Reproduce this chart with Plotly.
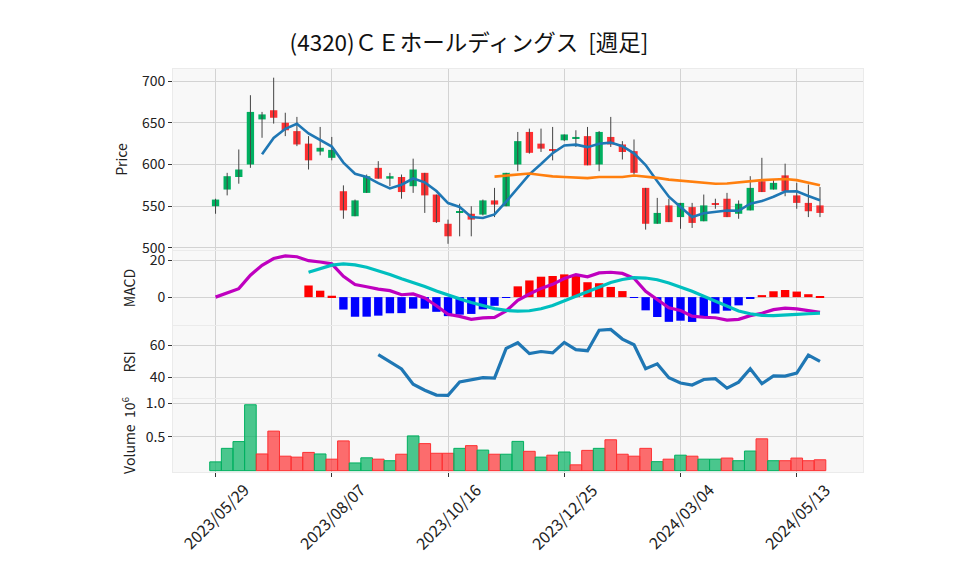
import pandas as pd
import plotly.graph_objects as go
from plotly.subplots import make_subplots

# ---------------- data ----------------
start_date = "2023-05-29"
n_weeks = 53
open_p = [550, 570, 585, 600, 654, 665, 650, 640, 625, 615.5,
          608, 568, 538, 566, 596, 583, 585, 574, 590, 564,
          529, 543, 541, 540, 557, 550, 600, 639, 625, 618,
          629, 631, 634, 600, 633, 624, 616, 572, 529, 551,
          537, 549, 532, 553.5, 559, 541, 545, 580, 570, 587,
          563, 554, 551]
high_p = [559, 590, 618, 683, 663, 704, 662, 657, 634, 645,
          633, 575, 558, 588, 604, 590, 588, 607, 590, 564,
          534, 553, 550, 558, 572, 590, 639, 643, 643, 645,
          636, 641, 645, 640, 657, 628, 630, 572, 560, 559,
          554, 554, 564, 559, 566, 557, 586, 608, 582, 601,
          578, 576, 573]
low_p = [541, 563, 577, 596, 632, 649, 634, 622, 594, 611,
         605, 535, 538, 566, 583, 574, 559, 566, 542, 530,
         505, 514, 514, 539, 537, 550, 592, 613, 615, 605,
         628, 621, 599, 592, 621, 606, 588, 522, 529, 531,
         523, 524, 532, 547, 537, 535, 545, 567, 570, 562,
         547, 537, 537]
close_p = [558, 586, 594, 663, 660, 656, 641, 624, 605, 620,
           617.5, 545, 557, 586, 583, 586, 567, 594, 563, 531,
           514, 544, 534, 557, 552, 590, 628, 614, 619, 617,
           636, 633, 599, 639, 624, 615, 590, 529, 542, 531,
           554, 530, 551, 552, 537, 553, 572, 567, 578, 568,
           554, 544, 542]
volume_m = [0.13, 0.33, 0.43, 0.975, 0.247, 0.585, 0.214, 0.2, 0.27, 0.247,
            0.17, 0.44, 0.114, 0.19, 0.17, 0.147, 0.243, 0.514, 0.4, 0.257,
            0.257, 0.33, 0.37, 0.304, 0.243, 0.243, 0.433, 0.286, 0.2, 0.229,
            0.276, 0.086, 0.3, 0.33, 0.457, 0.243, 0.214, 0.33, 0.133, 0.17,
            0.229, 0.214, 0.17, 0.17, 0.186, 0.147, 0.29, 0.471, 0.147, 0.147,
            0.186, 0.147, 0.161]
tick_dates = ["2023-05-29", "2023-08-07", "2023-10-16", "2023-12-25", "2024-03-04", "2024-05-13"]
tick_labels = ["2023/05/29", "2023/08/07", "2023/10/16", "2023/12/25", "2024/03/04", "2024/05/13"]
title_text = "(4320)ＣＥホールディングス  [週足]"

# ---------------- derived ----------------
dates = pd.date_range(start_date, periods=n_weeks, freq="7D")
close = pd.Series(close_p)
ma5 = close.rolling(5).mean()
ma25 = close.rolling(25).mean()
ema12 = close.ewm(span=12, adjust=False).mean()
ema26 = close.ewm(span=26, adjust=False).mean()
macd = ema12 - ema26
signal = macd.rolling(9).mean()
hist = macd - signal
delta = close.diff()
gain = delta.clip(lower=0).rolling(14).mean()
loss = (-delta.clip(upper=0)).rolling(14).mean()
rsi = 100 * gain / (gain + loss)

UP = "#00b060"
DOWN = "#fe3032"
UP_V = "rgba(0,176,96,0.7)"
DOWN_V = "rgba(254,48,50,0.7)"

week_ms = 7 * 24 * 3600 * 1000
body_base = [min(o, c) for o, c in zip(open_p, close_p)]
body_h = [max(abs(c - o), 0.6) for o, c in zip(open_p, close_p)]
body_col = [UP if c >= o else DOWN for o, c in zip(open_p, close_p)]
vol_up = [True] + [close_p[i] >= close_p[i - 1] for i in range(1, n_weeks)]
vol_col = [UP_V if u else DOWN_V for u in vol_up]
vol_line = [UP if u else DOWN for u in vol_up]
hist_col = ["#ff0000" if (h == h and h >= 0) else "#0000ff" for h in hist]

wx, wy = [], []
for d, h, l in zip(dates, high_p, low_p):
    wx += [d, d, None]
    wy += [l, h, None]

fig = make_subplots(rows=4, cols=1, shared_xaxes=True)

fig.add_trace(go.Scatter(x=wx, y=wy, mode="lines", line=dict(color="#444444", width=1),
                         hoverinfo="skip"), row=1, col=1)
fig.add_trace(go.Bar(x=dates, y=body_h, base=body_base, width=0.63 * week_ms,
                     marker=dict(color=body_col, line=dict(width=0))), row=1, col=1)
fig.add_trace(go.Scatter(x=dates, y=ma5, mode="lines", line=dict(color="#1f77b4", width=2.6)), row=1, col=1)
fig.add_trace(go.Scatter(x=dates, y=ma25, mode="lines", line=dict(color="#ff7f0e", width=2.6)), row=1, col=1)

fig.add_trace(go.Bar(x=dates, y=hist, width=0.72 * week_ms,
                     marker=dict(color=hist_col, line=dict(width=0))), row=2, col=1)
fig.add_trace(go.Scatter(x=dates, y=macd, mode="lines", line=dict(color="#bf00bf", width=3.2)), row=2, col=1)
fig.add_trace(go.Scatter(x=dates, y=signal, mode="lines", line=dict(color="#00bfbf", width=3.2)), row=2, col=1)

fig.add_trace(go.Scatter(x=dates, y=rsi, mode="lines", line=dict(color="#1f77b4", width=3.2)), row=3, col=1)

fig.add_trace(go.Bar(x=dates, y=volume_m, width=week_ms,
                     marker=dict(color=vol_col, line=dict(color=vol_line, width=1))), row=4, col=1)

x_range = [dates[0] - pd.Timedelta(days=7 * 3.66), dates[-1] + pd.Timedelta(days=7 * 3.7)]
font_main = "Noto Sans CJK JP, DejaVu Sans, sans-serif"
TXT = "#222222"

axis_common = dict(showgrid=True, gridcolor="#d3d3d3", gridwidth=1, zeroline=False,
                   ticks="outside", ticklen=4, tickcolor="#333333",
                   showline=True, linecolor="#ebebeb", mirror=True,
                   tickfont=dict(size=14, color=TXT))

tick_x = list(pd.to_datetime(tick_dates))
for i in range(1, 5):
    fig.update_xaxes(type="date", range=x_range, tickvals=tick_x,
                     ticktext=tick_labels, **axis_common, row=i, col=1)
    fig.update_xaxes(showticklabels=False, row=i, col=1)

# rotated date labels centred under their ticks (as in the reference)
for tx, tl in zip(tick_x, tick_labels):
    fig.add_annotation(x=tx, xref="x4", y=-0.1092, yref="paper", text=tl, textangle=-45,
                       showarrow=False, xanchor="center", yanchor="middle",
                       font=dict(size=16, color=TXT, family="Noto Sans CJK JP, sans-serif"))

fig.update_yaxes(range=[497.6, 714.4], tickvals=[500, 550, 600, 650, 700],
                 title=dict(text="Price", font=dict(size=14, color=TXT), standoff=10),
                 **axis_common, row=1, col=1)
fig.update_yaxes(range=[-15.1, 25.0], tickvals=[0, 20],
                 title=dict(text="MACD", font=dict(size=14, color=TXT), standoff=10),
                 **axis_common, row=2, col=1)
fig.update_yaxes(range=[27.1, 72.1], tickvals=[40, 60],
                 title=dict(text="RSI", font=dict(size=14, color=TXT), standoff=10),
                 **axis_common, row=3, col=1)
fig.update_yaxes(range=[-0.02, 1.06], tickvals=[0.5, 1.0], ticktext=["0.5", "1.0"],
                 title=dict(text="Volume  10<sup>6</sup>", font=dict(size=14, color=TXT), standoff=6),
                 **axis_common, row=4, col=1)

# page has an 8px body margin; the figure is sized so the page is 958x575
W, H = 942, 559
fig.update_layout(
    width=W, height=H,
    margin=dict(l=165, r=W - 855, t=61, b=H - 464),
    paper_bgcolor="white", plot_bgcolor="#f8f8f8",
    showlegend=False, barmode="overlay",
    font=dict(family=font_main, size=14, color=TXT),
    title=dict(text=title_text, x=461 / W, xanchor="center", y=1 - 35 / H, yanchor="middle",
               font=dict(size=22.5, color="#111111", family=font_main)),
    yaxis=dict(domain=[0.5509, 1.0]),
    yaxis2=dict(domain=[0.3648, 0.5484]),
    yaxis3=dict(domain=[0.1836, 0.3623]),
    yaxis4=dict(domain=[0.0, 0.1811]),
)

fig.write_html("out.html")
